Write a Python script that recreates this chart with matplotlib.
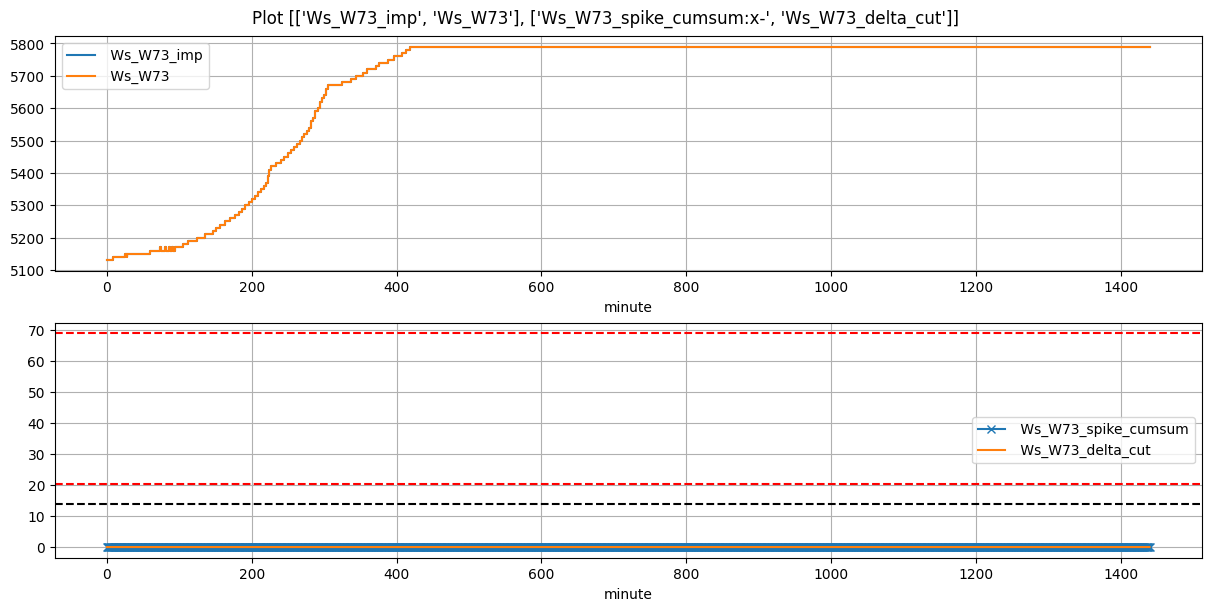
import numpy as np
import matplotlib
matplotlib.use("Agg")
import matplotlib.pyplot as plt

# Change points of the step series (minute, value)
change_minutes = [0, 8, 25, 27, 28, 60, 73, 74, 80, 81, 86, 87, 90, 91, 94, 105, 112,
                  124, 135, 146, 151, 156, 163, 170, 177, 183, 186, 190, 196, 201,
                  205, 209, 213, 217, 220, 222, 224, 226, 234, 240, 245, 250, 254,
                  258, 262, 266, 269, 272, 276, 279, 282, 285, 288, 291, 294, 297,
                  300, 302, 305, 324, 337, 344, 353, 359, 372, 376, 388, 397, 408,
                  413, 419, 1440]
change_values = [5130, 5140, 5150, 5140, 5150, 5160, 5170, 5160, 5170, 5160, 5170, 5160,
                 5170, 5160, 5170, 5180, 5190, 5200, 5210, 5220, 5230, 5240, 5250,
                 5260, 5270, 5280, 5290, 5300, 5310, 5320, 5330, 5340, 5350, 5360,
                 5370, 5390, 5410, 5420, 5430, 5440, 5450, 5460, 5470, 5480, 5490,
                 5500, 5510, 5520, 5530, 5540, 5560, 5570, 5590, 5600, 5620, 5630,
                 5640, 5660, 5670, 5680, 5690, 5700, 5710, 5720, 5730, 5740, 5750,
                 5760, 5770, 5780, 5790, 5790]

minutes = np.arange(0, 1441)
spike_cumsum = np.zeros(len(minutes))
delta_cut = np.zeros(len(minutes))

hlines_red = [69.0, 20.5]
hline_black = 14.0

title = "Plot [['Ws_W73_imp', 'Ws_W73'], ['Ws_W73_spike_cumsum:x-', 'Ws_W73_delta_cut']]"

fig, (ax1, ax2) = plt.subplots(2, 1, figsize=(12, 6), dpi=100, layout="constrained")
fig.suptitle(title)

ax1.plot(change_minutes, change_values, drawstyle="steps-post", label=" Ws_W73_imp")
ax1.plot(change_minutes, change_values, drawstyle="steps-post", label=" Ws_W73")
ax1.grid(True)
ax1.set_xlabel("minute")
ax1.legend(loc="upper left")

ax2.plot(minutes, spike_cumsum, "x-", label=" Ws_W73_spike_cumsum")
ax2.plot(minutes, delta_cut, label=" Ws_W73_delta_cut")
for h in hlines_red:
    ax2.axhline(h, color="red", linestyle="--")
ax2.axhline(hline_black, color="black", linestyle="--")
ax2.grid(True)
ax2.set_xlabel("minute")
ax2.legend(loc="center right")

fig.savefig("out.png", dpi=100, bbox_inches="tight")
